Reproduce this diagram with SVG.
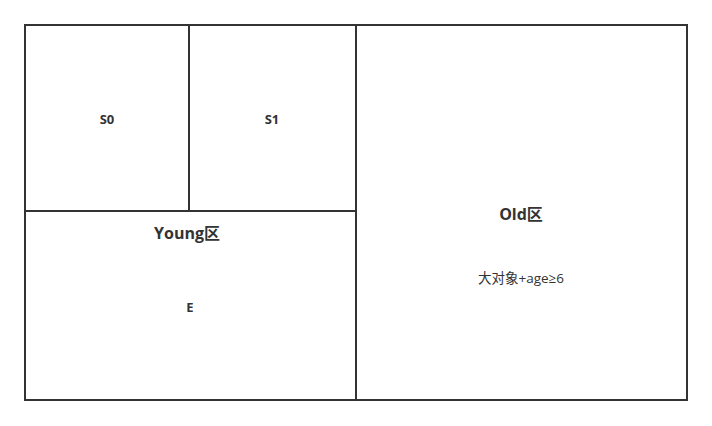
<svg xmlns="http://www.w3.org/2000/svg" width="712" height="426" viewBox="0 0 712 426">
<style>
.box{fill:#fff;stroke:#333;stroke-width:2}
.t{font-family:"Open Sans","Noto Sans CJK SC",sans-serif;fill:#333;text-anchor:middle;dominant-baseline:central}
.b{font-weight:bold}
</style>
<rect width="712" height="426" fill="#fff"/>
<g id="old"><rect class="box" x="356" y="25" width="331" height="375"/>
<text class="t b" x="521" y="214" font-size="16">Old区</text>
<text class="t" x="521" y="278" font-size="13.5">大对象+age≥6</text></g>
<g id="young"><rect class="box" x="25" y="211" width="331" height="189"/>
<text class="t b" x="187" y="233" font-size="16">Young区</text>
<text class="t b" x="190" y="307" font-size="13">E</text></g>
<g id="s0"><rect class="box" x="25" y="25" width="164" height="186"/>
<text class="t b" x="107" y="119" font-size="13">S0</text></g>
<g id="s1"><rect class="box" x="189" y="25" width="167" height="186"/>
<text class="t b" x="272" y="119" font-size="13">S1</text></g>
<g id="connectors"></g>
</svg>
